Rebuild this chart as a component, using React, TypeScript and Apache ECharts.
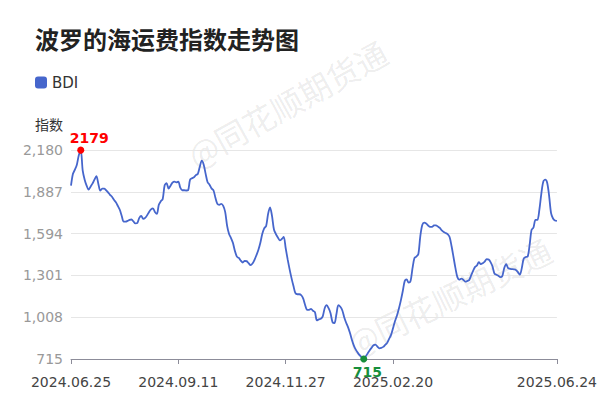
import React, { useEffect, useRef } from "react";
import * as echarts from "echarts";

const TITLE = "波罗的海运费指数走势图";
const SERIES_NAME = "BDI";
const Y_NAME = "指数";
const WATERMARK = "@同花顺期货通";

// x tick labels and the data index at which each one sits
const tickLabels = ["2024.06.25", "2024.09.11", "2024.11.27", "2025.02.20", "2025.06.24"];
const tickIndex = [0, 55, 110, 165, 249];

// y axis
const yMin = 715;
const yMax = 2180;
const yStep = 293;

// BDI daily values
const bdi = [
  1930, 2013, 2042, 2077, 2143, 2179, 2035, 1972, 1930, 1902,
  1923, 1944, 1972, 1997, 1944, 1895, 1909, 1909, 1898, 1883,
  1866, 1852, 1831, 1813, 1788, 1761, 1718, 1678, 1678, 1683,
  1690, 1693, 1679, 1665, 1668, 1704, 1718, 1697, 1704, 1722,
  1746, 1764, 1771, 1746, 1732, 1796, 1820, 1837, 1933, 1947,
  1909, 1930, 1951, 1958, 1953, 1958, 1916, 1898, 1898, 1896,
  1898, 1972, 1982, 1989, 2004, 2013, 2063, 2105, 2077, 2013,
  1954, 1937, 1911, 1898, 1845, 1802, 1796, 1802, 1788, 1746,
  1648, 1591, 1563, 1528, 1472, 1433, 1423, 1405, 1391, 1403,
  1401, 1387, 1373, 1384, 1409, 1442, 1479, 1528, 1591, 1631,
  1648, 1732, 1778, 1718, 1623, 1591, 1567, 1546, 1556, 1570,
  1493, 1415, 1345, 1282, 1226, 1176, 1169, 1169, 1162, 1138,
  1092, 1060, 1060, 1067, 1053, 1043, 986, 993, 997, 1014,
  1071, 1092, 1071, 1036, 974, 967, 1029, 1092, 1081, 1057,
  1008, 969, 937, 895, 846, 807, 779, 758, 740, 726,
  715, 733, 754, 775, 793, 811, 816, 802, 790, 793,
  800, 814, 828, 856, 884, 930, 979, 1018, 1067, 1124,
  1190, 1261, 1273, 1250, 1261, 1352, 1423, 1433, 1451, 1577,
  1655, 1671, 1665, 1651, 1641, 1641, 1651, 1652, 1644, 1634,
  1616, 1605, 1598, 1591, 1570, 1507, 1430, 1352, 1289, 1271,
  1278, 1271, 1257, 1261, 1268, 1299, 1331, 1359, 1370, 1394,
  1380, 1387, 1398, 1415, 1412, 1394, 1363, 1313, 1306, 1299,
  1289, 1296, 1352, 1380, 1352, 1347, 1345, 1343, 1339, 1324,
  1306, 1352, 1420, 1430, 1433, 1514, 1620, 1637, 1690, 1690,
  1761, 1873, 1958, 1972, 1951, 1859, 1737, 1700, 1686, 1683,
];

const categories = bdi.map((_, i) => String(i));

const LINE_COLOR = "#4666CC";
const MAX_COLOR = "#FF0000";
const MIN_COLOR = "#178F3C";
const FONT = "'DejaVu Sans', 'Noto Sans CJK SC', sans-serif";

export default function App() {
  const ref = useRef<HTMLDivElement>(null);

  useEffect(() => {
    document.body.style.margin = "0";
    if (!ref.current) return;
    const chart = echarts.init(ref.current, undefined, { renderer: "svg" });
    const showTick = (i: number) => tickIndex.includes(i);
    const watermarkStyle = {
      text: WATERMARK,
      fontSize: 32,
      fill: "rgba(0,0,0,0.085)",
      align: "center",
      verticalAlign: "middle",
      fontFamily: "'Noto Sans CJK SC', sans-serif",
    };
    chart.setOption({
      animation: false,
      backgroundColor: "#ffffff",
      textStyle: { fontFamily: FONT },
      title: {
        text: TITLE,
        left: 35,
        top: 26,
        padding: 0,
        textStyle: {
          fontSize: 24,
          fontWeight: "bold",
          color: "#222222",
          fontFamily: "'Noto Sans CJK SC', sans-serif",
        },
      },
      legend: {
        data: [SERIES_NAME],
        left: 35,
        top: 75,
        padding: 0,
        itemWidth: 12,
        itemHeight: 12,
        icon: "roundRect",
        textStyle: { fontSize: 15, color: "#333333", fontFamily: FONT },
      },
      graphic: [
        {
          type: "text",
          x: 287,
          y: 103,
          rotation: (29 * Math.PI) / 180,
          silent: true,
          z: -1,
          style: watermarkStyle,
        },
        {
          type: "text",
          x: 449,
          y: 296,
          rotation: (26 * Math.PI) / 180,
          silent: true,
          z: -1,
          style: watermarkStyle,
        },
      ],
      grid: { left: 71, right: 42, top: 150, bottom: 49, containLabel: false },
      xAxis: {
        type: "category",
        data: categories,
        boundaryGap: false,
        axisLine: { lineStyle: { color: "#8C8C99", width: 1 } },
        axisTick: { show: true, length: 5, interval: (i: number) => showTick(i), lineStyle: { color: "#8C8C99" } },
        axisLabel: {
          interval: (i: number) => showTick(i),
          formatter: (_v: string, i: number) => {
            const k = tickIndex.indexOf(i);
            return k >= 0 ? tickLabels[k] : "";
          },
          fontSize: 14,
          color: "#444444",
          margin: 16,
          fontFamily: FONT,
        },
        splitLine: { show: false },
      },
      yAxis: {
        type: "value",
        min: yMin,
        max: yMax,
        interval: yStep,
        name: Y_NAME,
        nameLocation: "end",
        nameGap: 26,
        nameTextStyle: {
          fontSize: 14,
          color: "#333333",
          align: "right",
          verticalAlign: "middle",
          padding: [0, 8, 0, 0],
          fontFamily: "'Noto Sans CJK SC', sans-serif",
        },
        axisLine: { show: false },
        axisTick: { show: false },
        axisLabel: {
          fontSize: 14,
          color: "#999999",
          margin: 8,
          fontFamily: FONT,
          formatter: (v: number) => Math.round(v).toLocaleString("en-US"),
        },
        splitLine: { lineStyle: { color: "#E6E6E6", width: 1 } },
      },
      series: [
        {
          name: SERIES_NAME,
          type: "line",
          data: bdi,
          showSymbol: false,
          smooth: 0.3,
          lineStyle: { color: LINE_COLOR, width: 1.8 },
          itemStyle: { color: LINE_COLOR },
          markPoint: {
            symbol: "circle",
            symbolSize: 7,
            data: [
              {
                type: "max",
                itemStyle: { color: MAX_COLOR },
                label: {
                  show: true,
                  position: "top",
                  distance: 2,
                  align: "left",
                  offset: [-11, 0],
                  color: MAX_COLOR,
                  fontSize: 14,
                  fontWeight: "bold",
                  fontFamily: FONT,
                },
              },
              {
                type: "min",
                itemStyle: { color: MIN_COLOR },
                label: {
                  show: true,
                  position: "bottom",
                  distance: 2,
                  align: "left",
                  offset: [-11, 0],
                  color: MIN_COLOR,
                  fontSize: 14,
                  fontWeight: "bold",
                  fontFamily: FONT,
                },
              },
            ],
          },
        },
      ],
    });
    return () => chart.dispose();
  }, []);

  return <div ref={ref} style={{ width: 600, height: 408 }} />;
}
